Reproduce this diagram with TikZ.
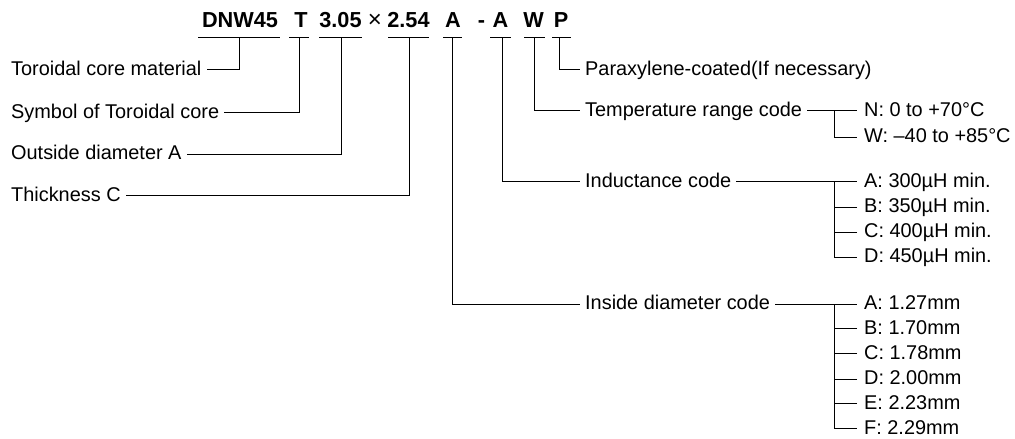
\documentclass[tikz,border=0pt]{standalone}
\usepackage{fontspec}
\setmainfont{Liberation Sans}
\begin{document}
\begin{tikzpicture}[x=1pt,y=-1pt,
  lbl/.style={font=\fontsize{19.9}{22}\selectfont, inner xsep=5pt, inner ysep=0pt, anchor=base west},
  item/.style={font=\fontsize{19.9}{22}\selectfont, inner xsep=7pt, inner ysep=0pt, anchor=base west},
  tok/.style={font=\fontsize{21.7}{24}\selectfont\bfseries, inner sep=0pt, anchor=base},
  ln/.style={line width=0.95pt}]
\useasboundingbox (0,0) rectangle (1015,439);

% title tokens
\node[tok] (tD) at (240,27.3) {DNW45};
\node[tok] (tT) at (301,27.3) {T};
\node[tok] (tO) at (340.5,27.3) {3.05};
\node[tok, font=\fontsize{24}{26}\selectfont] (tX) at (375,27.3) {×};
\node[tok] (tC) at (408.5,27.3) {2.54};
\node[tok] (tI) at (453,27.3) {A};
\node[tok] (tH) at (481.5,27.3) {-};
\node[tok] (tL) at (500.5,27.3) {A};
\node[tok] (tW) at (533.5,27.3) {W};
\node[tok] (tP) at (561,27.3) {P};

% underline centres
\coordinate (uD) at (239,37.5);
\coordinate (uT) at (299.5,37.5);
\coordinate (uO) at (341,37.5);
\coordinate (uC) at (409,37.5);
\coordinate (uI) at (452.5,37.5);
\coordinate (uL) at (502,37.5);
\coordinate (uW) at (534,37.5);
\coordinate (uP) at (559,37.5);

\draw[ln] ([xshift=-41pt]uD) -- ([xshift=40.5pt]uD);
\draw[ln] ([xshift=-10.5pt]uT) -- ([xshift=9.5pt]uT);
\draw[ln] ([xshift=-22pt]uO) -- ([xshift=21pt]uO);
\draw[ln] ([xshift=-21pt]uC) -- ([xshift=20pt]uC);
\draw[ln] ([xshift=-9.5pt]uI) -- ([xshift=9.5pt]uI);
\draw[ln] ([xshift=-12pt]uL) -- ([xshift=9pt]uL);
\draw[ln] ([xshift=-10pt]uW) -- ([xshift=11pt]uW);
\draw[ln] ([xshift=-7pt]uP) -- ([xshift=12pt]uP);

% left labels (baseline = line + 5.7)
\node[lbl] (lTor) at (6,75) {Toroidal core material};
\node[lbl] (lSym) at (6,118.2) {Symbol of Toroidal core};
\node[lbl] (lOut) at (6,159.7) {Outside diameter A};
\node[lbl] (lThk) at (6,201.2) {Thickness C};

\draw[ln] (uD) |- ([yshift=5.7pt]lTor.base east);
\draw[ln] (uT) |- ([yshift=5.7pt]lSym.base east);
\draw[ln] (uO) |- ([yshift=5.7pt]lOut.base east);
\draw[ln] (uC) |- ([yshift=5.7pt]lThk.base east);

% right labels
\node[lbl] (lPar) at (580,75) {Paraxylene-coated(If necessary)};
\node[lbl] (lTmp) at (580,116.2) {Temperature range code};
\node[lbl] (lInd) at (580,187.4) {Inductance code};
\node[lbl] (lIns) at (580,309.7) {Inside diameter code};

\draw[ln] (uP) |- ([yshift=5.7pt]lPar.base west);
\draw[ln] (uW) |- ([yshift=5.7pt]lTmp.base west);
\draw[ln] (uL) |- ([yshift=5.7pt]lInd.base west);
\draw[ln] (uI) |- ([yshift=5.7pt]lIns.base west);

% temperature codes
\node[item] (n1) at (857,116.2) {N: 0 to +70°C};
\node[item] (n2) at (857,142.7) {W: –40 to +85°C};
\coordinate (bT) at (834,110.5);
\draw[ln] ([yshift=5.7pt]lTmp.base east) -- ([yshift=5.7pt]n1.base west);
\draw[ln] (bT) |- ([yshift=5.7pt]n2.base west);

% inductance codes
\node[item] (i1) at (857,187.4) {A: 300µH min.};
\node[item] (i2) at (857,212.7) {B: 350µH min.};
\node[item] (i3) at (857,237.7) {C: 400µH min.};
\node[item] (i4) at (857,262.7) {D: 450µH min.};
\coordinate (bI) at (834,181.7);
\draw[ln] ([yshift=5.7pt]lInd.base east) -- ([yshift=5.7pt]i1.base west);
\draw[ln] (bI) |- ([yshift=5.7pt]i4.base west);
\draw[ln] ([yshift=5.7pt]i2.base west) -- ++(-23,0);
\draw[ln] ([yshift=5.7pt]i3.base west) -- ++(-23,0);

% inside diameter codes
\node[item] (d1) at (857,309.7) {A: 1.27mm};
\node[item] (d2) at (857,334.2) {B: 1.70mm};
\node[item] (d3) at (857,359.2) {C: 1.78mm};
\node[item] (d4) at (857,384.7) {D: 2.00mm};
\node[item] (d5) at (857,409.2) {E: 2.23mm};
\node[item] (d6) at (857,434) {F: 2.29mm};
\coordinate (bD) at (834,304);
\draw[ln] ([yshift=5.7pt]lIns.base east) -- ([yshift=5.7pt]d1.base west);
\draw[ln] (bD) |- ([yshift=5.7pt]d6.base west);
\draw[ln] ([yshift=5.7pt]d2.base west) -- ++(-23,0);
\draw[ln] ([yshift=5.7pt]d3.base west) -- ++(-23,0);
\draw[ln] ([yshift=5.7pt]d4.base west) -- ++(-23,0);
\draw[ln] ([yshift=5.7pt]d5.base west) -- ++(-23,0);
\end{tikzpicture}
\end{document}
